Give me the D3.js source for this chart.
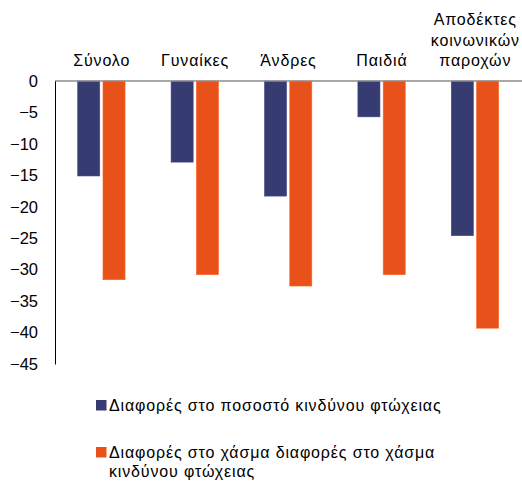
<!DOCTYPE html>
<html>
<head>
<meta charset="utf-8">
<script src="https://cdn.jsdelivr.net/npm/d3@7"></script>
<style>
  body { margin: 0; background: #fff; }
  text { font-family: "Liberation Sans", Arial, sans-serif; font-size: 16px; fill: #000; }
  .lbl { letter-spacing: 0.85px; }
</style>
</head>
<body>
<script>
// data
var categories = ['Σύνολο', 'Γυναίκες', 'Άνδρες', 'Παιδιά', 'Αποδέκτες κοινωνικών παροχών'];
var categoryLines = [['Σύνολο'], ['Γυναίκες'], ['Άνδρες'], ['Παιδιά'], ['Αποδέκτες', 'κοινωνικών', 'παροχών']];
var seriesNames = ['Διαφορές στο ποσοστό κινδύνου φτώχειας', 'Διαφορές στο χάσμα διαφορές στο χάσμα κινδύνου φτώχειας'];
var legendLines = [['Διαφορές στο ποσοστό κινδύνου φτώχειας'], ['Διαφορές στο χάσμα διαφορές στο χάσμα', 'κινδύνου φτώχειας']];
var rateDiff = [-15.1, -12.9, -18.3, -5.7, -24.6];
var gapDiff = [-31.6, -30.8, -32.6, -30.8, -39.3];
var yTicks = [0, -5, -10, -15, -20, -25, -30, -35, -40, -45];
var colors = ['#363b72', '#e8511a'];

var width = 522, height = 486;
var svg = d3.select('body').append('svg').attr('width', width).attr('height', height);

var x = d3.scaleBand().domain(categories).range([55, 522]);
var bw = x.bandwidth();
var x1 = d3.scaleBand().domain([0, 1]).range([bw * 0.243, bw * 0.75]).paddingInner(0.127);
var y = d3.scaleLinear().domain([-45, 0]).range([364, 81]);

var values = [rateDiff, gapDiff];

// bars
values.forEach(function (vals, s) {
  svg.append('g').selectAll('rect').data(vals).enter().append('rect')
    .attr('x', function (d, i) { return x(categories[i]) + x1(s); })
    .attr('y', y(0))
    .attr('width', x1.bandwidth())
    .attr('height', function (d) { return y(d) - y(0); })
    .attr('fill', colors[s])
    .attr('stroke', d3.color(colors[s]).brighter(0.6))
    .attr('stroke-width', 0.6);
});

// zero line
svg.append('line')
  .attr('x1', 55).attr('x2', 522)
  .attr('y1', y(0)).attr('y2', y(0))
  .attr('stroke', '#8c8c8c').attr('stroke-width', 1.5);

// y axis
var yAxis = d3.axisLeft(y).tickValues(yTicks).tickSize(0).tickPadding(17).tickFormat(d3.format('d'));
var ga = svg.append('g').attr('transform', 'translate(55,0)').call(yAxis);
ga.select('.domain').attr('stroke', '#000').attr('stroke-width', 1);
ga.selectAll('text').style('font-family', '"Liberation Sans", Arial, sans-serif').style('font-size', '16.5px').attr('fill', '#000');

// category labels
categoryLines.forEach(function (lines, i) {
  var t = svg.append('text')
    .attr('class', 'lbl')
    .attr('text-anchor', 'middle')
    .attr('x', x(categories[i]) + bw / 2);
  lines.forEach(function (l, j) {
    t.append('tspan')
      .attr('x', x(categories[i]) + bw / 2)
      .attr('y', 66 - (lines.length - 1 - j) * 20.5)
      .text(l);
  });
});

// legend
var legendY = [400, 447];
legendLines.forEach(function (lines, s) {
  svg.append('rect')
    .attr('x', 96).attr('y', legendY[s])
    .attr('width', 10.5).attr('height', 10.5)
    .attr('fill', colors[s]);
  var t = svg.append('text').attr('class', 'lbl');
  lines.forEach(function (l, j) {
    t.append('tspan').attr('x', 109).attr('y', legendY[s] + 10.5 + j * 19).text(l);
  });
});
</script>
</body>
</html>
